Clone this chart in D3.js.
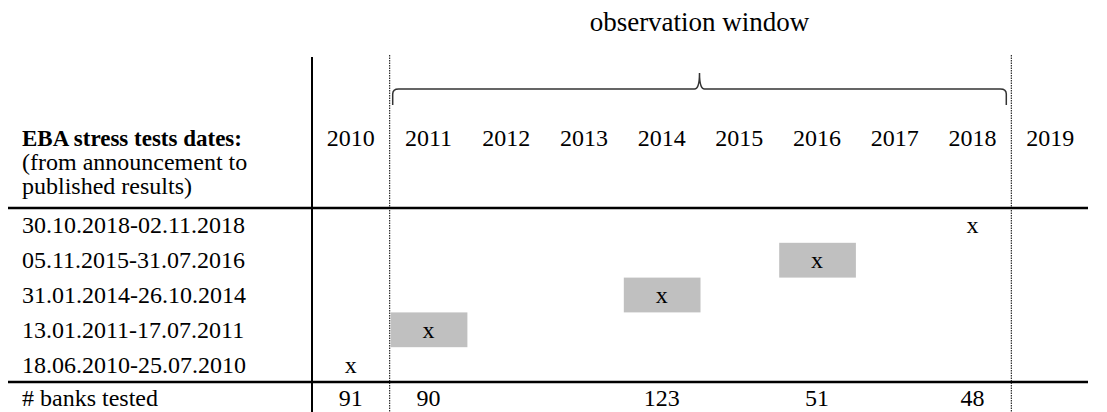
<!DOCTYPE html>
<html>
<head>
<meta charset="utf-8">
<script src="https://cdn.jsdelivr.net/npm/d3@7"></script>
<style>
  body { margin: 0; background: #fff; }
  text { font-family: "Liberation Serif", "Times New Roman", serif; font-size: 24px; fill: #000; }
</style>
</head>
<body>
<div id="chart"></div>
<script>
////////// Data ///////////

var years = [2010, 2011, 2012, 2013, 2014, 2015, 2016, 2017, 2018, 2019];
// stress tests, top row first
var testLabels = ["30.10.2018-02.11.2018", "05.11.2015-31.07.2016", "31.01.2014-26.10.2014",
                  "13.01.2011-17.07.2011", "18.06.2010-25.07.2010"];
var testYears = [2018, 2016, 2014, 2011, 2010];
var testShaded = [false, true, true, true, false];
var banksYears = [2010, 2011, 2014, 2016, 2018];
var banksTested = [91, 90, 123, 51, 48];
var windowStart = 2011, windowEnd = 2018;

////////// Layout ///////////

var width = 1107, height = 412;
var tableLeft = 8, tableRight = 1088;
var headerTop = 56, headerBottom = 208, rowsBottom = 382;

var svg = d3.select("#chart").append("svg")
  .attr("width", width)
  .attr("height", height);

var x = d3.scaleBand().domain(years).range([312, 1089]);
var y = d3.scaleBand().domain(testLabels).range([headerBottom, rowsBottom]);

// grey boxes for the longer tests
svg.selectAll("rect.span")
  .data(testLabels.filter(function(d, i) { return testShaded[i]; }))
  .enter().append("rect")
  .attr("class", "span")
  .attr("x", function(d) { return x(testYears[testLabels.indexOf(d)]) + 1; })
  .attr("y", function(d) { return y(d); })
  .attr("width", x.bandwidth() - 1)
  .attr("height", y.bandwidth())
  .style("fill", "#c0c0c0");

// horizontal rules
svg.selectAll("line.rule")
  .data([headerBottom, rowsBottom])
  .enter().append("line")
  .attr("x1", tableLeft).attr("x2", tableRight)
  .attr("y1", function(d) { return d; }).attr("y2", function(d) { return d; })
  .style("stroke", "#000").style("stroke-width", 2.5);

// solid line after the label column
svg.append("line")
  .attr("x1", x(2010)).attr("x2", x(2010))
  .attr("y1", headerTop + 1).attr("y2", height)
  .style("stroke", "#000").style("stroke-width", 2);

// dotted lines around the observation window
[x(windowStart), x(windowEnd) + x.bandwidth()].forEach(function(px) {
  svg.append("line")
    .attr("x1", px).attr("x2", px)
    .attr("y1", headerTop - 1).attr("y2", height)
    .style("stroke", "#000").style("stroke-width", 1)
    .style("stroke-dasharray", "1.5,1");
});

// observation window brace
var bx0 = x(windowStart) + 3, bx1 = x(windowEnd) + x.bandwidth() - 5;
var bmid = (bx0 + bx1) / 2, by = 89;
svg.append("path")
  .attr("d", "M" + bx0 + "," + (by + 16) +
    " L" + bx0 + "," + (by + 5) + " Q" + bx0 + "," + by + " " + (bx0 + 6) + "," + by +
    " L" + (bmid - 5) + "," + by + " Q" + bmid + "," + by + " " + bmid + "," + (by - 16) +
    " Q" + bmid + "," + by + " " + (bmid + 5) + "," + by +
    " L" + (bx1 - 6) + "," + by + " Q" + bx1 + "," + by + " " + bx1 + "," + (by + 5) +
    " L" + bx1 + "," + (by + 16))
  .style("fill", "none").style("stroke", "#333").style("stroke-width", 1.5);

svg.append("text")
  .attr("x", bmid).attr("y", 31)
  .attr("text-anchor", "middle")
  .style("font-size", "27px")
  .text("observation window");

// header
svg.selectAll("text.year")
  .data(years)
  .enter().append("text")
  .attr("class", "year")
  .attr("x", function(d) { return x(d) + x.bandwidth() / 2; })
  .attr("y", 146)
  .attr("text-anchor", "middle")
  .text(function(d) { return d; });

svg.append("text").attr("x", 22).attr("y", 146)
  .style("font-weight", "bold").style("font-size", "23px").text("EBA stress tests dates:");
svg.append("text").attr("x", 22).attr("y", 170).text("(from announcement to");
svg.append("text").attr("x", 22).attr("y", 194).text("published results)");

// rows
svg.selectAll("text.label")
  .data(testLabels)
  .enter().append("text")
  .attr("class", "label")
  .attr("x", 22)
  .attr("y", function(d) { return y(d) + y.bandwidth() / 2 + 8; })
  .text(function(d) { return d; });

svg.selectAll("text.mark")
  .data(testLabels)
  .enter().append("text")
  .attr("class", "mark")
  .attr("x", function(d, i) { return x(testYears[i]) + x.bandwidth() / 2; })
  .attr("y", function(d) { return y(d) + y.bandwidth() / 2 + 8; })
  .attr("text-anchor", "middle")
  .text("x");

// banks tested
svg.append("text").attr("x", 22).attr("y", 406).text("# banks tested");
svg.selectAll("text.banks")
  .data(banksTested)
  .enter().append("text")
  .attr("class", "banks")
  .attr("x", function(d, i) { return x(banksYears[i]) + x.bandwidth() / 2; })
  .attr("y", 406)
  .attr("text-anchor", "middle")
  .text(function(d) { return d; });
</script>
</body>
</html>
